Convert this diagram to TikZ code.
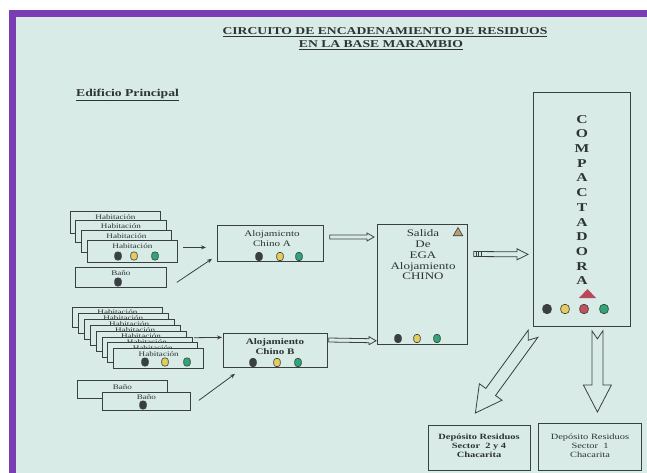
\documentclass[tikz,border=0pt]{standalone}
\usepackage{fontspec}
\setmainfont{Liberation Serif}[FakeStretch=1.3]
\usetikzlibrary{calc,arrows.meta,shapes.geometric}
\definecolor{bg}{HTML}{D8EBE7}
\definecolor{frame}{HTML}{7A3DB3}
\definecolor{ink}{HTML}{3A3F42}
\definecolor{txt}{HTML}{2E3336}
\definecolor{binK}{HTML}{3A3F44}
\definecolor{binY}{HTML}{E4CD5C}
\definecolor{binG}{HTML}{2FA676}
\definecolor{binR}{HTML}{C4505E}
\definecolor{triT}{HTML}{B9A072}
\definecolor{triR}{HTML}{B8485C}
\newcommand\mkbox[5]{\node[box, minimum width={(#4-#2)*1pt}, minimum height={(#5-#3)*1pt}] (#1) at (#2,#3) {};}
\newcommand\mkbin[4]{\node[bin, fill=#4] (#1) at (#2,#3) {};}
\newcommand\hollowarrow[7]{%
  \path (#2) coordinate (hA) (#3) coordinate (hB);
  \coordinate (hN) at ($(hB)!#6pt!(hA)$);
  \draw[harrow,#1] ($(hA)!#4pt!90:(hB)$) -- ($(hN)!#4pt!90:(hB)$) -- ($(hN)!#5pt!90:(hB)$) -- (hB)
     -- ($(hN)!#5pt!-90:(hB)$) -- ($(hN)!#4pt!-90:(hB)$) -- ($(hA)!#4pt!-90:(hB)$) -- ($(hA)!#7pt!(hB)$) -- cycle;}
\begin{document}
\begin{tikzpicture}[x=1pt,y=-1pt,
  box/.style={draw=ink, line width=0.8pt, fill=bg, inner sep=0pt, anchor=north west},
  bin/.style={draw=ink, line width=0.6pt, minimum width=6.5pt, minimum height=8pt, rounded corners=2.5pt, inner sep=0pt},
  bigbin/.style={bin, minimum width=8.5pt, minimum height=9pt, rounded corners=3.5pt},
  lbl/.style={font=\fontsize{7}{8}\selectfont, text=txt, inner sep=0pt},
  mid/.style={font=\fontsize{8.5}{10}\selectfont, text=txt, inner sep=0pt, align=center},
  conn/.style={draw=ink, line width=0.8pt, -{Stealth[length=5pt,width=4pt]}},
  harrow/.style={draw=ink, line width=0.8pt, fill=bg, line join=miter},
  tri/.style={regular polygon, regular polygon sides=3, inner sep=0pt}]
\useasboundingbox (0,0) rectangle (647,473);
\fill[white] (0,0) rectangle (647,473);
\fill[bg] (9,10) rectangle (647,473);
\fill[frame] (9,10) rectangle (16,473);
\fill[frame] (9,10) rectangle (647,17);

% title
\node[font=\fontsize{10.5}{12}\selectfont\bfseries, text=txt, inner sep=0pt] (t1) at (385,32) {\underline{CIRCUITO DE ENCADENAMIENTO DE RESIDUOS}};
\node[font=\fontsize{10.5}{12}\selectfont\bfseries, text=txt, inner sep=0pt] (t2) at (381,45) {\underline{EN LA BASE MARAMBIO}};
\node[font=\fontsize{10.5}{12}\selectfont\bfseries, text=txt, inner sep=0pt, anchor=west] (ep) at (76,95) {\underline{Edificio Principal}};

% top habitaciones
\mkbox{h1}{70}{211}{160}{233}
\node[lbl] (h1t) at ($(h1.north)+(0,6)$) {Habitación};
\mkbox{h2}{75}{220}{166}{242}
\node[lbl] (h2t) at ($(h2.north)+(0,6)$) {Habitación};
\mkbox{h3}{81}{230}{171}{252}
\node[lbl] (h3t) at ($(h3.north)+(0,6)$) {Habitación};
\mkbox{h4}{87}{240}{177}{262}
\node[lbl] (h4t) at ($(h4.north)+(0,6.5)$) {Habitación};
\mkbin{h4k}{118}{256}{binK}
\mkbin{h4y}{134}{256}{binY}
\mkbin{h4g}{155}{256}{binG}
\mkbox{b1}{75}{267}{166}{287}
\node[lbl] (b1t) at ($(b1.north)+(0,6)$) {Baño};
\mkbin{b1k}{118}{282}{binK}

% bottom habitaciones
\foreach \k in {0,...,7}{
  \pgfmathsetmacro\xx{72+5.9*\k}
  \pgfmathsetmacro\yy{307+5.9*\k}
  \pgfmathsetmacro\xr{\xx+90}
  \pgfmathsetmacro\yb{\yy+20}
  \mkbox{hb\k}{\xx}{\yy}{\xr}{\yb}
  \node[lbl] (hb\k t) at ($(hb\k.north)+(0,5.5)$) {Habitación};
}
\mkbin{hbk}{145}{362}{binK}
\mkbin{hby}{165}{362}{binY}
\mkbin{hbg}{187}{362}{binG}
\mkbox{c1}{77}{380}{167}{398}
\node[lbl] (c1t) at ($(c1.north)+(0,7)$) {Baño};
\mkbox{c2}{102}{392}{190}{410}
\node[lbl] (c2t) at ($(c2.north)+(0,5.5)$) {Baño};
\mkbin{c2k}{143}{405}{binK}

% alojamientos
\mkbox{alojA}{217}{225}{323}{261}
\node[mid] (alojAt) at (272,239) {Alojamicnto\\Chino A};
\mkbin{ak}{259}{256.5}{binK}
\mkbin{ay}{280}{256.5}{binY}
\mkbin{ag}{299}{256.5}{binG}
\mkbox{alojB}{223}{333}{327}{367}
\node[mid, font=\fontsize{8.5}{10}\selectfont\bfseries] (alojBt) at (275,347) {Alojamiento\\Chino B};
\mkbin{bk}{253}{362.5}{binK}
\mkbin{by}{277}{362.5}{binY}
\mkbin{bg}{298}{362.5}{binG}

% salida
\mkbox{salida}{377}{224}{467}{344}
\node[mid, font=\fontsize{10}{10.75}\selectfont] (salidat) at (423,255) {Salida\\De\\EGA\\Alojamiento\\CHINO};
\node[tri, fill=triT, draw=ink, line width=0.6pt, minimum size=11pt] (salTri) at (458,233) {};
\mkbin{sk}{398}{338.5}{binK}
\mkbin{sy}{417}{338.5}{binY}
\mkbin{sg}{437}{338.5}{binG}

% compactadora
\mkbox{comp}{533}{92}{630}{326}
\node[font=\fontsize{12}{14.7}\selectfont\bfseries, text=txt, align=center, inner sep=0pt] (compt) at (582,200) {C\\O\\M\\P\\A\\C\\T\\A\\D\\O\\R\\A};
\fill[triR] (579,298) -- (596,298) -- (587.5,289) -- cycle;
\node[bigbin, fill=binK] (ck) at (547,309) {};
\node[bigbin, fill=binY] (cy) at (565,309) {};
\node[bigbin, fill=binR] (cr) at (584,309) {};
\node[bigbin, fill=binG] (cg) at (604,309) {};

% depositos
\mkbox{dep1}{428}{425}{530}{470}
\node[mid, font=\fontsize{8}{9}\selectfont\bfseries] (dep1t) at (479,446) {Depósito Residuos\\Sector \ 2 y 4\\Chacarita};
\mkbox{dep2}{538}{423}{641}{470}
\node[mid, font=\fontsize{8}{9}\selectfont] (dep2t) at (590,446) {Depósito Residuos\\Sector \ 1\\Chacarita};

% small arrows
\draw[conn] ($(h4.east)+(5,-4)$) -- ($(alojA.west)+(-11,4)$);
\draw[conn] ($(b1.east)+(10,5)$) -- ($(alojA.south west)+(-5,-3)$);
\draw[conn] ($(hb7.east)+(-10,-21)$) -- ($(alojB.west)+(-1,-13)$);
\draw[conn] ($(c2.east)+(8,-1)$) -- ($(alojB.south west)+(12,6)$);

% hollow arrows
\coordinate (as1) at ($(alojA.north east)+(6,12)$);
\coordinate (as2) at ($(salida.north west)+(-3,13)$);
\hollowarrow{}{as1}{as2}{2}{4}{7}{0}
\coordinate (bs1) at ($(alojB.north east)+(1,7)$);
\coordinate (bs2) at ($(salida.south west)+(-1,-4)$);
\hollowarrow{}{bs1}{bs2}{2}{4}{7}{0}
\coordinate (sc1) at ($(salida.north east)+(6,30)$);
\coordinate (sc2) at ($(comp.west)+(-5,45)$);
\hollowarrow{}{sc1}{sc2}{2.5}{5.5}{11}{0}
\draw[ink, line width=0.6pt] ($(sc1)+(2,-2.5)$) -- ++(0,5) ($(sc1)+(4.5,-2.5)$) -- ++(0,5) ($(sc1)+(7,-2.5)$) -- ++(0,5);
\coordinate (cd1) at ($(comp.south west)+(0,7)$);
\coordinate (cd2) at ($(dep1.north)+(-4,-12)$);
\hollowarrow{}{cd1}{cd2}{6}{14}{26}{8}
\coordinate (cv1) at ($(comp.south)+(15.5,4)$);
\coordinate (cv2) at ($(dep2.north)+(7.5,-11)$);
\hollowarrow{}{cv1}{cv2}{5.5}{14}{27}{8}
\end{tikzpicture}
\end{document}
